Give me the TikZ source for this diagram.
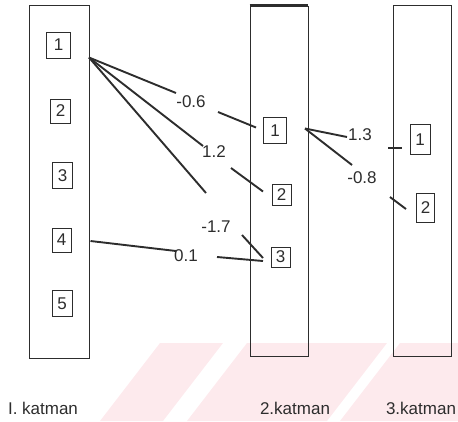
\documentclass[tikz,border=0pt]{standalone}
\usepackage{fontspec}
\setmainfont{Liberation Sans}
\definecolor{wm}{RGB}{253,234,237}
\definecolor{ink}{RGB}{45,45,45}
\begin{document}
\begin{tikzpicture}[x=1pt,y=-1pt,
  layerbox/.style={draw=ink, line width=0.9pt, inner sep=0pt},
  cell/.style={draw=ink, line width=0.8pt, inner sep=0pt, text=ink,
    font=\fontsize{17}{17}\selectfont},
  wlabel/.style={inner sep=0pt, text=ink, font=\fontsize{17}{17}\selectfont},
  conn/.style={draw=ink, line width=1.9pt},
]
\useasboundingbox (0,0) rectangle (458,421);
% watermark bands
\fill[wm] (160,343) -- (223,343) -- (163,421) -- (100,421) -- cycle;
\fill[wm] (247,343) -- (387,343) -- (327,421) -- (187,421) -- cycle;
\fill[wm] (400,343) -- (458,343) -- (458,421) -- (340,421) -- cycle;
% layers
\node[layerbox, minimum width=60pt, minimum height=353pt] (K1) at (59,181.5) {};
\node[layerbox, minimum width=58pt, minimum height=350pt] (K2) at (279,181) {};
\node[layerbox, minimum width=58pt, minimum height=351pt] (K3) at (422,180.5) {};
\draw[ink, line width=2.2pt] (K2.north west) -- (K2.north east);
% cells layer 1
\node[cell, minimum width=24pt, minimum height=26pt] (A1) at (58.7,45) {1};
\node[cell, minimum width=20pt, minimum height=24pt] (A2) at (60.7,111) {2};
\node[cell, minimum width=20pt, minimum height=26pt] (A3) at (62.5,175.5) {3};
\node[cell, minimum width=19pt, minimum height=24pt] (A4) at (61.5,240) {4};
\node[cell, minimum width=20pt, minimum height=26pt] (A5) at (62,303.5) {5};
% cells layer 2
\node[cell, minimum width=23pt, minimum height=26pt] (B1) at (275,130.5) {1};
\node[cell, minimum width=19pt, minimum height=21pt] (B2) at (281.5,194.5) {2};
\node[cell, minimum width=19pt, minimum height=20pt] (B3) at (280.5,257) {3};
% cells layer 3
\node[cell, minimum width=20pt, minimum height=30pt] (C1) at (420,139.5) {1};
\node[cell, minimum width=18pt, minimum height=29pt] (C2) at (425.5,207.5) {2};
% weight labels
\node[wlabel] (w1) at (191,102) {-0.6};
\node[wlabel] (w2) at (214,152) {1.2};
\node[wlabel] (w3) at (216,227) {-1.7};
\node[wlabel] (w4) at (186,256) {0.1};
\node[wlabel] (w5) at (360,135) {1.3};
\node[wlabel] (w6) at (362,177.5) {-0.8};
% bottom labels
\node[wlabel] (t1) at (43,408) {I. katman};
\node[wlabel] (t2) at (295,408) {2.katman};
\node[wlabel] (t3) at (421,408) {3.katman};
% connector points
\coordinate (o1) at (89,57.5);
\coordinate (a1) at (176,93);
\coordinate (b1) at (218,112);
\coordinate (e1) at (256,127.5);
\coordinate (a2) at (203,146);
\coordinate (b2) at (231,168);
\coordinate (e2) at (263,191.5);
\coordinate (a3) at (206,193);
\coordinate (b3) at (242,235);
\coordinate (e3) at (263,258);
\coordinate (o4) at (90.5,241);
\coordinate (a4) at (176,251);
\coordinate (b4) at (217,257);
\coordinate (e4) at (263,261);
\coordinate (o5) at (305,128.5);
\coordinate (a5) at (347,137);
\coordinate (a6) at (352,165);
\coordinate (b5) at (388,148);
\coordinate (e5) at (402,148);
\coordinate (b6) at (390,197);
\coordinate (e6) at (406,209);
% connectors
\draw[conn] (o1) -- (a1);
\draw[conn] (b1) -- (e1);
\draw[conn] (o1) -- (a2);
\draw[conn] (b2) -- (e2);
\draw[conn] (o1) -- (a3);
\draw[conn] (b3) -- (e3);
\draw[conn] (o4) -- (a4);
\draw[conn] (b4) -- (e4);
\draw[conn] (o5) -- (a5);
\draw[conn] (o5) -- (a6);
\draw[conn] (b5) -- (e5);
\draw[conn] (b6) -- (e6);
\end{tikzpicture}
\end{document}
